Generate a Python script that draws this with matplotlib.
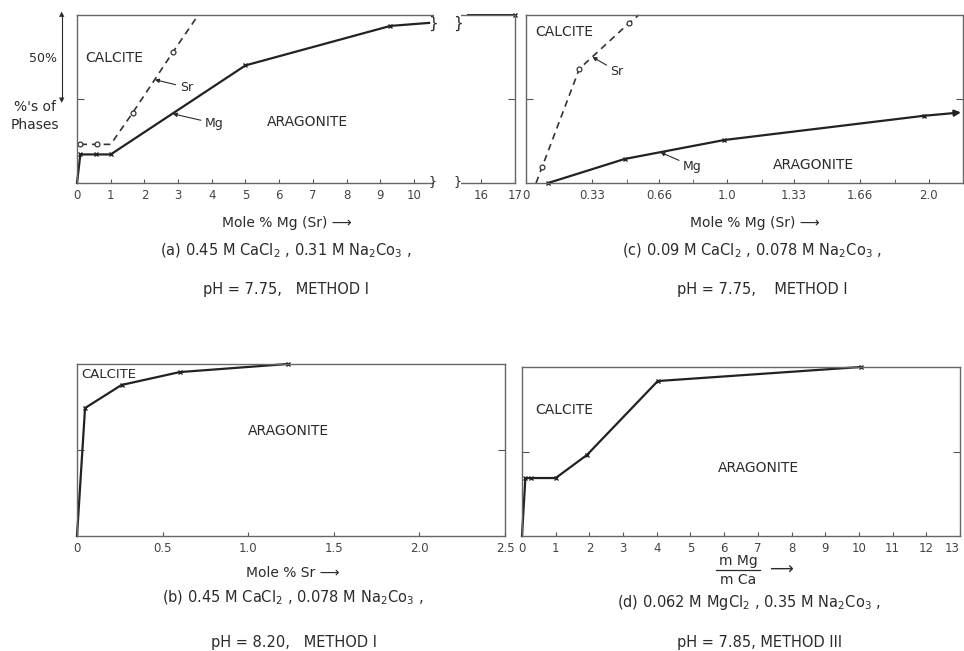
import numpy as np
import matplotlib.pyplot as plt
from matplotlib.patches import Rectangle

W, H = 964, 651
INK = '#2b2b2b'
plt.rcParams['font.family'] = ['DejaVu Sans']
plt.rcParams['mathtext.fontset'] = 'dejavusans'

# (a) 0.45 M CaCl2, 0.31 M Na2CO3 -- broken x axis (10.5 .. 15.5 removed)
mg_a_x = [0, 0.1, 0.55, 1.0, 5.0, 9.3, 10.45]
mg_a_y = [0, 17, 17, 17, 70, 93.5, 95.3]
mg_a2_x = [15.6, 17]
mg_a2_y = [100, 100]
sr_a_x = [0.1, 0.6, 1.0, 1.65, 2.85, 3.6]
sr_a_y = [23, 23, 23, 41.7, 78, 100]
ticks_a = [0, 1, 2, 3, 4, 5, 6, 7, 8, 9, 10, 16, 17]

# (c) 0.09 M CaCl2, 0.078 M Na2CO3
mg_c_x = [0.11, 0.49, 0.985, 1.975, 2.16]
mg_c_y = [0, 14.3, 25.6, 40, 42]
sr_c_x = [0.05, 0.08, 0.265, 0.51, 0.56]
sr_c_y = [0, 9.5, 68, 95, 100]
ticks_c = [0, 0.33, 0.66, 1.0, 1.33, 1.66, 2.0]
labels_c = ['0', '0.33', '0.66', '1.0', '1.33', '1.66', '2.0']
minor_c = [0.5, 0.83, 1.17, 1.5, 1.83]

# (b) 0.45 M CaCl2, 0.078 M Na2CO3
sr_b_x = [0, 0.047, 0.26, 0.6, 1.23]
sr_b_y = [0, 74.4, 87.8, 95.3, 100]
ticks_b = [0, 0.5, 1.0, 1.5, 2.0, 2.5]
labels_b = ['0', '0.5', '1.0', '1.5', '2.0', '2.5']

# (d) 0.062 M MgCl2, 0.35 M Na2CO3
mg_d_x = [0, 0.1, 0.27, 1.0, 1.93, 4.03, 10.05]
mg_d_y = [0, 34.3, 34.3, 34.3, 48, 91.7, 100]
ticks_d = list(range(14))


def brk(x):
    x = np.asarray(x, dtype=float)
    return np.where(x > 10.5, x - 4, x)


def px(x, y):
    return x / W, 1 - y / H


def axes_px(l, t, r, b):
    return fig.add_axes([l / W, 1 - b / H, (r - l) / W, (b - t) / H])


def style(ax):
    for s in ax.spines.values():
        s.set_color('#666666')
        s.set_linewidth(1.0)
    ax.set_ylim(0, 100)
    ax.set_yticks([50])
    ax.set_yticklabels([])
    ax.tick_params(axis='y', direction='in', length=5, right=True, color='#555555')
    ax.tick_params(axis='x', direction='in', length=3, color='#555555',
                   labelsize=8.5, labelcolor='#444444', pad=4)


def ftext(x, y, s, size=10, ha='left', **kw):
    fig.text(*px(x, y), s, fontsize=size, ha=ha, va='center', color=INK, **kw)


ARROW = dict(arrowstyle='-|>', color=INK, lw=0.8, mutation_scale=6, shrinkA=1, shrinkB=0)

fig = plt.figure(figsize=(W / 100, H / 100), dpi=100)

# ---- (a)
ax = axes_px(77, 15, 515, 183)
style(ax)
ax.set_xlim(0, 13)
ax.set_xticks(brk(ticks_a))
ax.set_xticklabels([str(t) for t in ticks_a])
ax.plot(brk(mg_a_x), mg_a_y, '-', color='#222222', lw=1.6, marker='x', ms=3.5,
        mew=1.0, markevery=[1, 2, 3, 4, 5], clip_on=False)
ax.plot(brk(mg_a2_x), mg_a2_y, '-', color='#222222', lw=1.4, marker='x', ms=3.5,
        mew=1.0, markevery=[1], clip_on=False)
ax.plot(brk(sr_a_x), sr_a_y, '--', color='#333333', lw=1.2, dashes=(4, 3),
        marker='o', ms=3.5, mfc='white', mew=0.9, markevery=[0, 1, 3, 4], clip_on=False)
for yy in (-0.02, 0.965):
    ax.add_patch(Rectangle((10.6, yy), 0.8, 0.055, transform=ax.get_xaxis_transform(),
                           facecolor='white', edgecolor='none', zorder=5, clip_on=False))
for xx in (10.55, 11.3):
    ax.text(xx, 95, '}', fontsize=11, ha='center', va='center', color=INK, zorder=6)
    ax.text(xx, 1, '}', fontsize=9, ha='center', va='center', color=INK, zorder=6,
            clip_on=False)
ax.annotate('Sr', xy=(2.31, 61.5), xytext=(3.05, 57), fontsize=9, color=INK,
            va='center', arrowprops=ARROW)
ax.annotate('Mg', xy=(2.84, 41.2), xytext=(3.8, 35.5), fontsize=9, color=INK,
            va='center', arrowprops=ARROW)
ftext(85, 58, 'CALCITE')
ftext(267, 122, 'ARAGONITE')
ftext(287, 223, 'Mole % Mg (Sr) \u27F6', ha='center')
ftext(286, 251, '(a) 0.45 M CaCl$_2$ , 0.31 M Na$_2$Co$_3$ ,', size=10.5, ha='center')
ftext(286, 290, 'pH = 7.75,   METHOD I', size=10.5, ha='center')

# left-hand scale
fig.text(*px(57, 58), '50%', fontsize=9, ha='right', va='center', color=INK)
fig.text(*px(35, 116), "%'s of\nPhases", fontsize=10, ha='center', va='center',
         color=INK, linespacing=1.3)
fig.add_artist(plt.Line2D([62 / W, 62 / W], [1 - 15 / H, 1 - 100 / H],
                          color=INK, lw=0.8))
fig.text(*px(62, 14), '\u25B2', fontsize=5, ha='center', va='center', color=INK)
fig.text(*px(62, 100), '\u25BC', fontsize=5, ha='center', va='center', color=INK)

# ---- (c)
ax = axes_px(526, 15, 963, 183)
style(ax)
ax.set_xlim(0, 2.17)
ax.set_xticks(ticks_c)
ax.set_xticklabels(labels_c)
ax.set_xticks(minor_c, minor=True)
ax.tick_params(axis='x', which='minor', direction='in', length=3, color='#555555')
ax.plot(mg_c_x[:-1], mg_c_y[:-1], '-', color='#222222', lw=1.6, marker='x', ms=3.5,
        mew=1.0, markevery=[0, 1, 2, 3], clip_on=False)
ax.annotate('', xy=(mg_c_x[-1], mg_c_y[-1]), xytext=(mg_c_x[-2], mg_c_y[-2]),
            arrowprops=dict(arrowstyle='-|>', color='#222222', lw=1.6,
                            mutation_scale=9, shrinkA=0, shrinkB=0))
ax.plot(sr_c_x, sr_c_y, '--', color='#333333', lw=1.2, dashes=(4, 3),
        marker='o', ms=3.5, mfc='white', mew=0.9, markevery=[1, 2, 3], clip_on=False)
ax.annotate('Sr', xy=(0.33, 75), xytext=(0.42, 66.5), fontsize=9, color=INK,
            va='center', arrowprops=ARROW)
ax.annotate('Mg', xy=(0.667, 18.3), xytext=(0.78, 10), fontsize=9, color=INK,
            va='center', arrowprops=ARROW)
ftext(535, 32, 'CALCITE')
ftext(773, 165, 'ARAGONITE')
ftext(755, 223, 'Mole % Mg (Sr) \u27F6', ha='center')
ftext(752, 251, '(c) 0.09 M CaCl$_2$ , 0.078 M Na$_2$Co$_3$ ,', size=10.5, ha='center')
ftext(762, 290, 'pH = 7.75,    METHOD I', size=10.5, ha='center')

# ---- (b)
ax = axes_px(77, 364, 505, 536)
style(ax)
ax.set_xlim(0, 2.5)
ax.set_xticks(ticks_b)
ax.set_xticklabels(labels_b)
ax.plot(sr_b_x, sr_b_y, '-', color='#222222', lw=1.6, marker='x', ms=3.5,
        mew=1.0, markevery=[1, 2, 3, 4], clip_on=False)
ftext(81, 375, 'CALCITE', size=9.5)
ftext(248, 431, 'ARAGONITE')
ftext(293, 573, 'Mole % Sr \u27F6', ha='center')
ftext(293, 598, '(b) 0.45 M CaCl$_2$ , 0.078 M Na$_2$Co$_3$ ,', size=10.5, ha='center')
ftext(294, 643, 'pH = 8.20,   METHOD I', size=10.5, ha='center')

# ---- (d)
ax = axes_px(522, 367, 960, 536)
style(ax)
ax.set_xlim(0, 13)
ax.set_xticks(ticks_d)
ax.set_xticklabels([str(t) for t in ticks_d])
ax.get_xticklabels()[-1].set_horizontalalignment('right')
ax.plot(mg_d_x, mg_d_y, '-', color='#222222', lw=1.6, marker='x', ms=3.5,
        mew=1.0, markevery=[1, 2, 3, 4, 5, 6], clip_on=False)
ftext(535, 410, 'CALCITE')
ftext(718, 468, 'ARAGONITE')
ftext(738, 561, 'm Mg', ha='center')
ftext(738, 580, 'm Ca', ha='center')
fig.add_artist(plt.Line2D([716 / W, 760 / W], [1 - 570 / H, 1 - 570 / H],
                          color=INK, lw=0.9))
ftext(781, 570, '\u27F6', size=12, ha='center')
ftext(749, 603, '(d) 0.062 M MgCl$_2$ , 0.35 M Na$_2$Co$_3$ ,', size=10.5, ha='center')
ftext(760, 642, 'pH = 7.85, METHOD III', size=10.5, ha='center')

fig.savefig('out.png', dpi=100)
